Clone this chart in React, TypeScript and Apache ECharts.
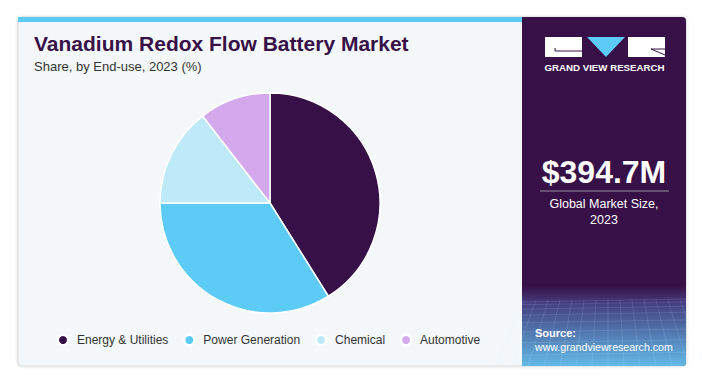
import React, { useEffect, useRef } from "react";
import * as echarts from "echarts";

const categories = ["Energy & Utilities", "Power Generation", "Chemical", "Automotive"];
const shares = [41.1, 33.9, 14.5, 10.5];
const colors = ["#371047", "#5ccbf5", "#bde9f8", "#d4a8ec"];
const titleText = "Vanadium Redox Flow Battery Market";
const subtitleText = "Share, by End-use, 2023 (%)";
const marketValue = "$394.7M";
const marketLabel = "Global Market Size,\n2023";

export default function App() {
  const ref = useRef<HTMLDivElement>(null);
  useEffect(() => {
    document.body.style.margin = "0";
    const chart = echarts.init(ref.current!, null, { renderer: "svg" });
    const gridLines: any[] = [];
    // decorative mesh in the bottom of the right panel
    for (let i = 0; i < 14; i++) {
      const x = 524 + i * 12;
      gridLines.push({
        type: "line",
        shape: { x1: x, y1: 300, x2: x + (i - 7) * 4, y2: 366 },
        style: { stroke: "rgba(200,230,255,0.22)", lineWidth: 0.6 },
        silent: true,
      });
    }
    for (let j = 0; j < 10; j++) {
      const y = 302 + j * j * 0.8 + j * 2;
      gridLines.push({
        type: "line",
        shape: { x1: 522, y1: y, x2: 686, y2: y - 3 },
        style: { stroke: "rgba(200,230,255,0.22)", lineWidth: 0.6 },
        silent: true,
      });
    }
    chart.setOption({
      animation: false,
      backgroundColor: "#ffffff",
      legend: {
        bottom: 28,
        left: 52,
        icon: "circle",
        itemWidth: 18,
        itemHeight: 10,
        itemGap: 15,
        textStyle: { color: "#333", fontSize: 12, fontFamily: "Arial" },
        data: categories,
      },
      graphic: [
        {
          type: "rect",
          shape: { x: 18, y: 17, width: 668, height: 349, r: 4 },
          style: { fill: "#f4f8fb", stroke: "#d6dadd", lineWidth: 1, shadowBlur: 3, shadowColor: "rgba(0,0,0,0.15)" },
          z: -10,
        },
        { type: "rect", shape: { x: 18, y: 17, width: 505, height: 5 }, style: { fill: "#5ccbf5" }, z: -5 },
        {
          type: "rect",
          shape: { x: 522, y: 17, width: 164, height: 349, r: [0, 4, 4, 0] },
          style: { fill: "#371047" },
          z: -5,
        },
        {
          type: "rect",
          shape: { x: 522, y: 286, width: 164, height: 80, r: [0, 0, 4, 0] },
          style: {
            fill: new echarts.graphic.LinearGradient(0, 0, 0, 1, [
              { offset: 0, color: "#371047" },
              { offset: 0.22, color: "#453e80" },
              { offset: 1, color: "#62b9e6" },
            ]),
          },
          z: -4,
        },
        ...gridLines.map((g) => ({ ...g, z: -3 })),
        {
          type: "text",
          left: 34,
          top: 33,
          style: { text: titleText, fill: "#371047", font: "bold 21px Arial" },
        },
        {
          type: "text",
          left: 34,
          top: 60,
          style: { text: subtitleText, fill: "#333333", font: "13px Arial" },
        },
        // logo
        { type: "rect", shape: { x: 545, y: 37, width: 37, height: 20 }, style: { fill: "#ffffff" } },
        { type: "line", shape: { x1: 555, y1: 51, x2: 582, y2: 51 }, style: { stroke: "#371047", lineWidth: 1 } },
        { type: "line", shape: { x1: 555, y1: 48, x2: 555, y2: 51 }, style: { stroke: "#371047", lineWidth: 1 } },
        { type: "polygon", shape: { points: [[587, 37], [625, 37], [606, 57]] }, style: { fill: "#5ccbf5" } },
        { type: "rect", shape: { x: 628, y: 37, width: 37, height: 20 }, style: { fill: "#ffffff" } },
        { type: "line", shape: { x1: 651, y1: 49, x2: 665, y2: 55 }, style: { stroke: "#371047", lineWidth: 1 } },
        { type: "line", shape: { x1: 651, y1: 49, x2: 665, y2: 49 }, style: { stroke: "#371047", lineWidth: 1 } },
        {
          type: "text",
          x: 604.5,
          y: 62,
          style: { text: "GRAND VIEW RESEARCH", fill: "#ffffff", font: "bold 9.7px Arial", align: "center" },
        },
        {
          type: "text",
          x: 604,
          y: 156,
          style: { text: marketValue, fill: "#ffffff", font: "bold 32px Arial", align: "center" },
        },
        { type: "line", shape: { x1: 540, y1: 191, x2: 669, y2: 191 }, style: { stroke: "#9b8aa6", lineWidth: 1 } },
        {
          type: "text",
          x: 604,
          y: 196,
          style: { text: marketLabel, fill: "#ffffff", font: "12.5px Arial", align: "center", lineHeight: 16 },
        },
        {
          type: "text",
          x: 535,
          y: 327,
          style: { text: "Source:", fill: "#ffffff", font: "bold 11px Arial" },
        },
        {
          type: "text",
          x: 535,
          y: 341,
          style: { text: "www.grandviewresearch.com", fill: "#ffffff", font: "10.6px Arial" },
        },
      ],
      series: [
        {
          type: "pie",
          center: [270, 203],
          radius: 110,
          startAngle: 90,
          clockwise: true,
          label: { show: false },
          labelLine: { show: false },
          itemStyle: { borderColor: "#ffffff", borderWidth: 1.5 },
          data: categories.map((name, i) => ({ name, value: shares[i], itemStyle: { color: colors[i] } })),
        },
      ],
    });
    return () => chart.dispose();
  }, []);
  return <div ref={ref} style={{ width: 702, height: 379 }} />;
}
